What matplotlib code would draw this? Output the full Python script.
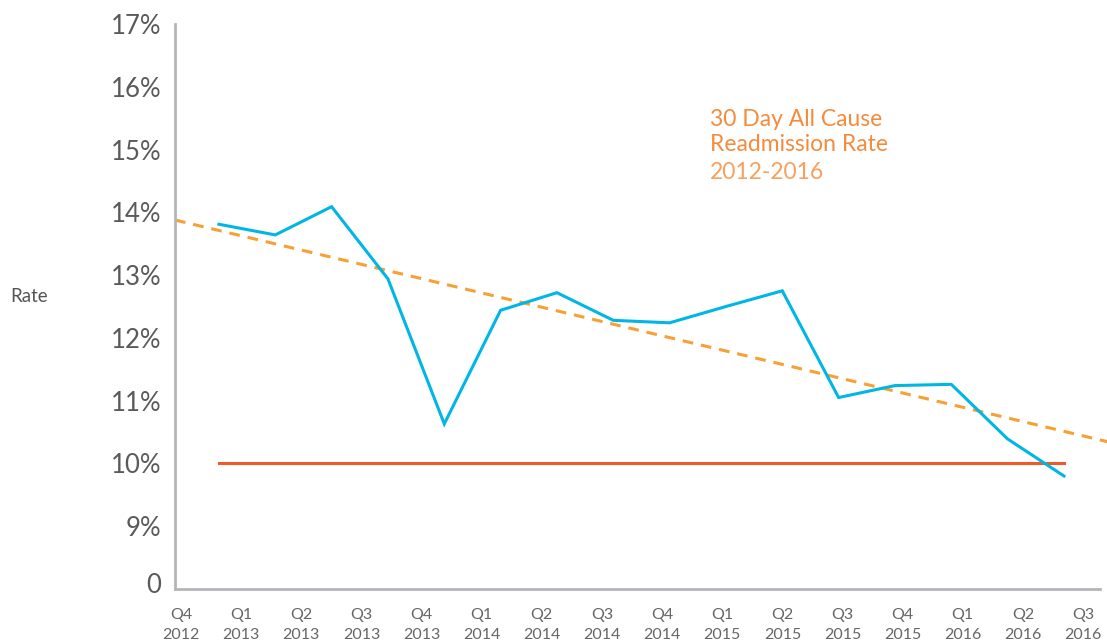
import numpy as np
import matplotlib
matplotlib.use("Agg")
import matplotlib.pyplot as plt

# quarterly 30 day all cause readmission rate (%)
quarters = ["Q4\n2012", "Q1\n2013", "Q2\n2013", "Q3\n2013", "Q4\n2013", "Q1\n2014",
            "Q2\n2014", "Q3\n2014", "Q4\n2014", "Q1\n2015", "Q2\n2015", "Q3\n2015",
            "Q4\n2015", "Q1\n2016", "Q2\n2016", "Q3\n2016"]
rate = [13.81, 13.64, 14.09, 12.94, 10.63, 12.44, 12.72, 12.28,
        12.24, 12.50, 12.75, 11.05, 11.24, 11.26, 10.39, 9.80]
target = 10.0

ytick_vals = [8.1, 9, 10, 11, 12, 13, 14, 15, 16, 17]
ytick_labels = ["0", "9%", "10%", "11%", "12%", "13%", "14%", "15%", "16%", "17%"]

plt.rcParams["font.family"] = ["Lato", "DejaVu Sans"]

fig = plt.figure(figsize=(11.07, 6.42), dpi=100)
ax = fig.add_axes([175 / 1107, 1 - 589 / 642, 925 / 1107, 565 / 642])

x = np.arange(len(rate))
xmin, xmax = -0.78, 15.64

# trend line (least squares), runs past the right edge of the axes
slope, icpt = np.polyfit(x, rate, 1)
tx = np.array([xmin, 15.8])
ax.plot(tx, icpt + slope * tx, color="#F7A033", lw=2.2, ls=(0, (3.5, 2.6)),
        clip_on=False, zorder=2)

ax.plot(x, rate, color="#00B6E4", lw=2.2, solid_joinstyle="miter", zorder=3)
ax.plot([x[0], x[-1]], [target, target], color="#EE5A2B", lw=2.2, zorder=2)

ax.set_xlim(xmin, xmax)
ax.set_ylim(8.0, 17.0)

ax.set_yticks(ytick_vals)
ax.set_yticklabels(ytick_labels, fontsize=18.5, color="#5A5A5A")
ax.tick_params(axis="y", length=0, pad=10)

# category labels are spaced a little wider than the data points
ax.set_xticks(np.linspace(-0.675, 15.34, len(quarters)))
ax.set_xticklabels(quarters, fontsize=11.5, color="#666666", linespacing=1.55)
ax.tick_params(axis="x", length=0, pad=14)

for s in ["top", "right"]:
    ax.spines[s].set_visible(False)
for s in ["left", "bottom"]:
    ax.spines[s].set_color("#B4B6BA")
    ax.spines[s].set_linewidth(2)

fig.text(10 / 1107, 1 - 297 / 642, "Rate", fontsize=13.5, color="#555555",
         va="center", ha="left")

ax.text(0.578, 0.85, "30 Day All Cause\nReadmission Rate", transform=ax.transAxes,
        fontsize=16.5, color="#F58B3C", va="top", ha="left", linespacing=1.27)
ax.text(0.578, 0.756, "2012-2016", transform=ax.transAxes,
        fontsize=16.5, color="#F7A060", va="top", ha="left")

fig.savefig("out.png", dpi=100)
